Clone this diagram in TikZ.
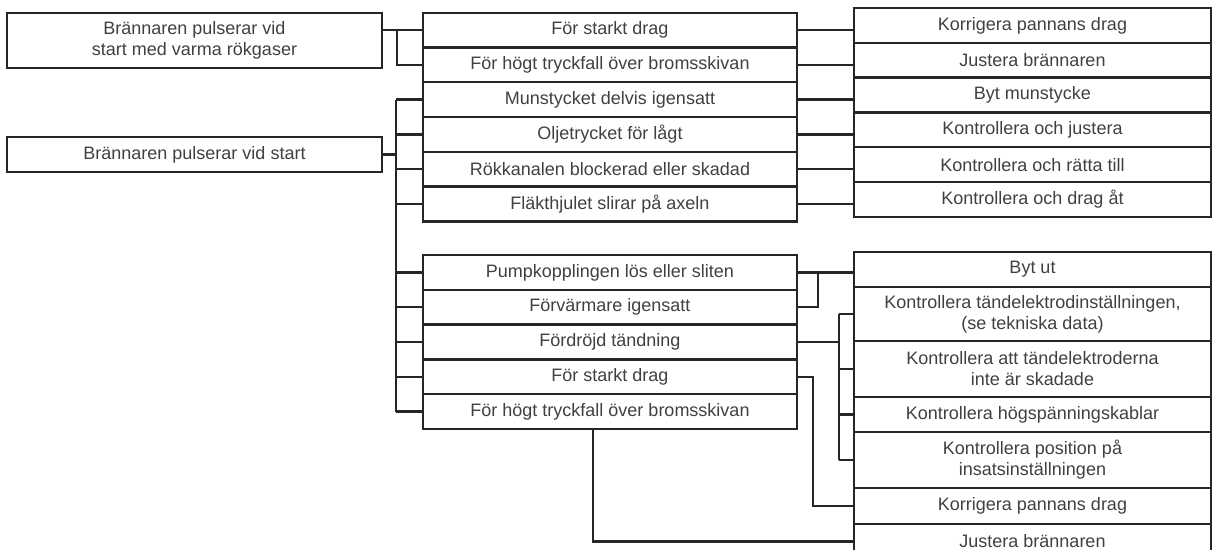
\documentclass[tikz,border=0pt]{standalone}
\usepackage{fontspec}
\setmainfont{Liberation Sans}
\usetikzlibrary{positioning}

\begin{document}
\begin{tikzpicture}
  [
    x = 0.5pt, y = -0.5pt,
    line width = 1.2pt, draw = black!85,
    every node/.style = {draw = black!85, rectangle, inner sep = 0pt, outer sep = 0pt,
      align = center, text = black!75, font = \fontsize{9}{10.5}\selectfont},
    leftbox/.style = {minimum width = 187.5pt},
    midbox/.style = {minimum width = 187pt, minimum height = 17.4pt},
    rightbox/.style = {minimum width = 178.5pt, minimum height = 17.4pt}
  ]
  \useasboundingbox (0,0) rectangle (1212,550);
  % causes on the left
  \node [leftbox, anchor = north west, minimum height = 27.5pt] (L1) at (7,13)
    {Brännaren pulserar vid\\start med varma rökgaser};
  \node [leftbox, anchor = north west, minimum height = 17.5pt] (L2) at (7,137)
    {Brännaren pulserar vid start};
  % middle column, upper group
  \node [midbox, anchor = north west, minimum height = 17.25pt] (M1) at (423,13) {För starkt drag};
  \node [midbox, below = 0pt of M1] (M2) {För högt tryckfall över bromsskivan};
  \node [midbox, below = 0pt of M2] (M3) {Munstycket delvis igensatt};
  \node [midbox, below = 0pt of M3] (M4) {Oljetrycket för lågt};
  \node [midbox, below = 0pt of M4] (M5) {Rökkanalen blockerad eller skadad};
  \node [midbox, below = 0pt of M5] (M6) {Fläkthjulet slirar på axeln};
  % middle column, lower group
  \node [midbox, anchor = north west] (N1) at (423,255) {Pumpkopplingen lös eller sliten};
  \node [midbox, below = 0pt of N1] (N2) {Förvärmare igensatt};
  \node [midbox, below = 0pt of N2] (N3) {Fördröjd tändning};
  \node [midbox, below = 0pt of N3] (N4) {För starkt drag};
  \node [midbox, below = 0pt of N4] (N5) {För högt tryckfall över bromsskivan};
  % remedies, upper group
  \node [rightbox, anchor = north west] (R1) at (854,8) {Korrigera pannans drag};
  \node [rightbox, below = 0pt of R1] (R2) {Justera brännaren};
  \node [rightbox, below = 0pt of R2] (R3) {Byt munstycke};
  \node [rightbox, below = 0pt of R3] (R4) {Kontrollera och justera};
  \node [rightbox, below = 0pt of R4] (R5) {Kontrollera och rätta till};
  \node [rightbox, below = 0pt of R5] (R6) {Kontrollera och drag åt};
  % remedies, lower group
  \node [rightbox, anchor = north west, minimum height = 17.5pt] (S1) at (854,252) {Byt ut};
  \node [rightbox, below = 0pt of S1, minimum height = 27pt] (S2)
    {Kontrollera tändelektrodinställningen,\\(se tekniska data)};
  \node [rightbox, below = 0pt of S2, minimum height = 28pt] (S3)
    {Kontrollera att tändelektroderna\\inte är skadade};
  \node [rightbox, below = 0pt of S3, minimum height = 17.5pt] (S4) {Kontrollera högspänningskablar};
  \node [rightbox, below = 0pt of S4, minimum height = 28pt] (S5)
    {Kontrollera position på\\insatsinställningen};
  \node [rightbox, below = 0pt of S5, minimum height = 18pt] (S6) {Korrigera pannans drag};
  \node [rightbox, below = 0pt of S6, minimum height = 17.5pt] (S7) {Justera brännaren};
  % junction columns
  \coordinate (J1) at (397,0);
  \coordinate (J2) at (396,0);
  \coordinate (J3) at (818,0);
  \coordinate (J4) at (839,0);
  \coordinate (J5) at (813,0);
  % left to middle
  \draw (L1.east |- M1.west) -- (M1.west);
  \draw (J1 |- M1.west) |- (M2.west);
  \draw (L2.east) -- (L2.east -| J2);
  \draw (J2 |- M3.west) -- (J2 |- N5.west);
  \foreach \n in {M3, M4, M5, M6, N1, N2, N3, N4, N5}
    \draw (J2 |- \n.west) -- (\n.west);
  % middle to right, upper group
  \foreach \i in {1, ..., 6}
    \draw (M\i.east) -- (M\i.east -| R\i.west);
  % middle to right, lower group
  \draw (N1.east) -- (N1.east -| S1.west);
  \draw (N2.east) -| (J3 |- N1.east);
  \draw (N3.east) -- (N3.east -| J4);
  \draw (J4 |- S2.west) -- (J4 |- S5.west);
  \foreach \s in {S2, S3, S4, S5}
    \draw (J4 |- \s.west) -- (\s.west);
  \draw (N4.east) -| (J5 |- S6.west) -- (S6.west);
  \draw ([xshift = -8.5pt]N5.south) |- (S7.west);
\end{tikzpicture}
\end{document}
